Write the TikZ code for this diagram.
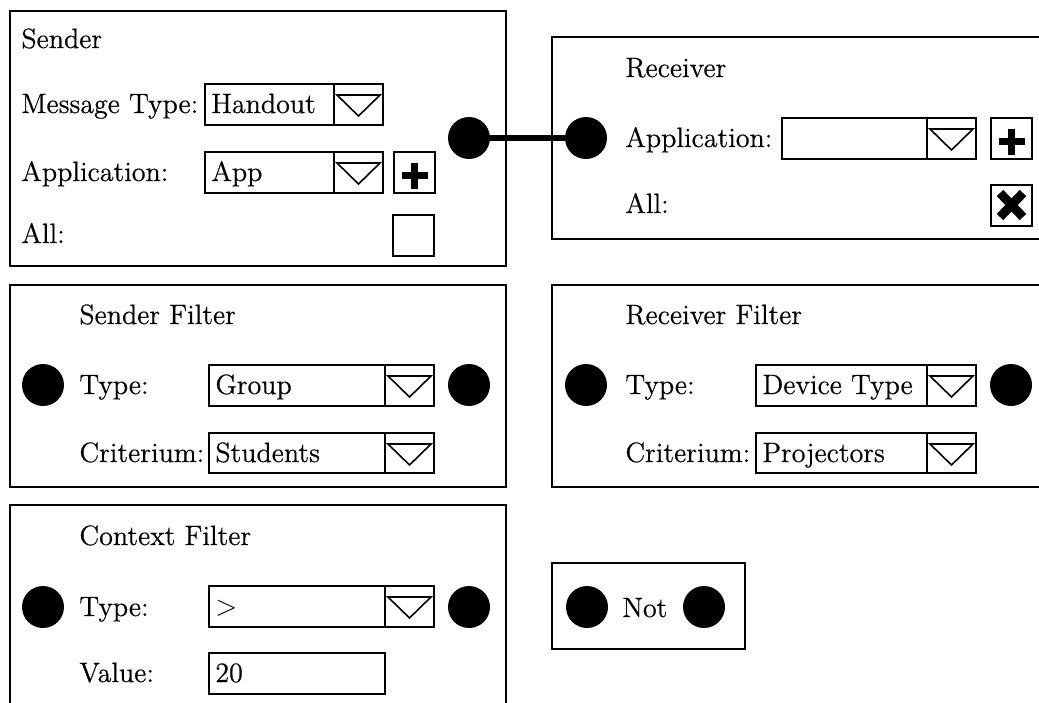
\documentclass[tikz,border=0pt]{standalone}
\usepackage{fontspec}
\setmainfont{Latin Modern Roman}[FakeBold=0.5]
\usetikzlibrary{calc}

\tikzset{
  panel/.style={draw, line width=1.1pt},
  field/.style={draw, line width=1.1pt},
  arrowmark/.style={draw, line width=0.8pt, line join=miter},
  lbl/.style={anchor=base west, inner sep=0pt, font=\fontsize{14}{16}\selectfont},
  port/.style={circle, fill=black, inner sep=0pt, minimum size=21pt},
  wire/.style={line width=3pt},
}

% drop-down field: name, left, top, divider, right, bottom, shown value
\newcommand{\dropfield}[7]{%
  \draw[field] (#2,#3) rectangle (#5,#6);
  \draw[field] (#4,#3) -- (#4,#6);
  \draw[arrowmark] ($(#4,#3)+(3,11)$) -- ($(#5,#3)+(-3,11)$)
        -- ($({(#4+#5)/2},#3)+(0,32)$) -- cycle;
  \node[lbl] (#1) at ($(#2,#3)+(6,29)$) {#7};
}
% add button: left, top, right, bottom
\newcommand{\addbutton}[4]{%
  \draw[field] (#1,#2) rectangle (#3,#4);
  \fill ($({(#1+#3)/2},#2)+(-13,20)$) rectangle ($({(#1+#3)/2},#2)+(13,27)$);
  \fill ($({(#1+#3)/2},#2)+(-3.5,11)$) rectangle ($({(#1+#3)/2},#2)+(3.5,37)$);
}

\begin{document}
\begin{tikzpicture}[x=0.5pt, y=-0.5pt]
\useasboundingbox (0,0) rectangle (1039,702);
\clip (0,0) rectangle (1039,702);

% ---------------- Sender ----------------
\draw[panel] (10,11) rectangle (506,266);
\node[lbl] (sndtitle) at (21,48) {Sender};
\node[lbl] (sndmsg) at (21,113) {Message Type:};
\dropfield{sndmsgval}{205}{84}{334}{383}{125}{Handout}
\node[lbl] (sndapp) at (21,181) {Application:};
\dropfield{sndappval}{205}{152}{334}{383}{193}{App}
\addbutton{394}{152}{435}{193}
\node[lbl] (sndall) at (21,243) {All:};
\draw[field] (393,215) rectangle (434,256);
\node[port] (sndout) at (469,138) {};

% ---------------- Receiver ----------------
\draw[panel] (552,37) rectangle (1070,239);
\node[lbl] (rcvtitle) at (625,77) {Receiver};
\node[lbl] (rcvapp) at (625,147) {Application:};
\dropfield{rcvappval}{782}{118}{927}{976}{159}{}
\addbutton{991}{118}{1032}{159}
\node[lbl] (rcvall) at (625,213) {All:};
\draw[field] (991,185) rectangle (1032,226);
\draw[line width=4.5pt] (1000,193) -- (1023,217) (1023,193) -- (1000,217);
\node[port] (rcvin) at (586,138) {};

\draw[wire] (sndout) -- (rcvin);

% ---------------- Sender Filter ----------------
\draw[panel] (10,285) rectangle (506,487);
\node[lbl] (sftitle) at (79,324) {Sender Filter};
\node[lbl] (sftype) at (79,394) {Type:};
\dropfield{sftypeval}{209}{365}{385}{434}{406}{Group}
\node[lbl] (sfcrit) at (79,462) {Criterium:};
\dropfield{sfcritval}{209}{433}{385}{434}{473}{Students}
\node[port] (sfin) at (43,385) {};
\node[port] (sfout) at (469,385) {};

% ---------------- Receiver Filter ----------------
\draw[panel] (552,285) rectangle (1070,487);
\node[lbl] (rftitle) at (625,324) {Receiver Filter};
\node[lbl] (rftype) at (625,394) {Type:};
\dropfield{rftypeval}{756}{365}{927}{976}{406}{Device Type}
\node[lbl] (rfcrit) at (625,462) {Criterium:};
\dropfield{rfcritval}{756}{433}{927}{976}{473}{Projectors}
\node[port] (rfin) at (586,385) {};
\node[port] (rfout) at (1011,385) {};

% ---------------- Context Filter ----------------
\draw[panel] (10,505) rectangle (506,730);
\node[lbl] (cftitle) at (79,545) {Context Filter};
\node[lbl] (cftype) at (79,616) {Type:};
\dropfield{cftypeval}{209}{586}{385}{434}{627}{$>$}
\node[lbl] (cfval) at (79,682) {Value:};
\draw[field] (209,653) rectangle (385,694);
\node[lbl] (cfvalval) at (215,682) {20};
\node[port] (cfin) at (43,607) {};
\node[port] (cfout) at (469,607) {};

% ---------------- Not ----------------
\draw[panel] (552,563) rectangle (745,649);
\node[lbl] (nottext) at (622,617) {Not};
\node[port] (notin) at (587,607) {};
\node[port] (notout) at (704,607) {};
\end{tikzpicture}
\end{document}
